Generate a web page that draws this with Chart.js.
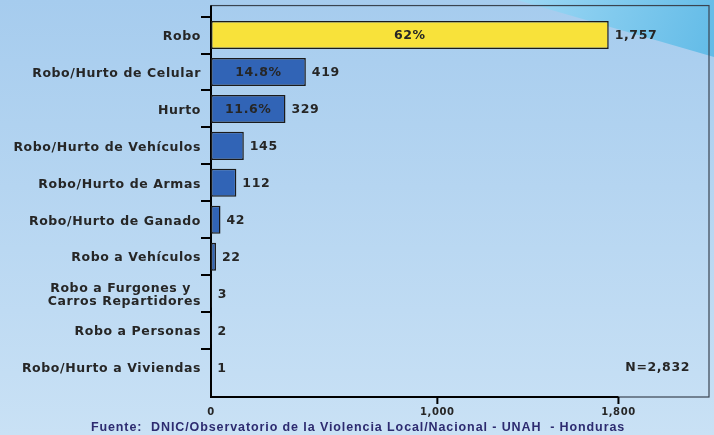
<!DOCTYPE html>
<html>
<head>
<meta charset="utf-8">
<script src="https://cdn.jsdelivr.net/npm/chart.js@4"></script>
<style>
  html, body { margin: 0; padding: 0; }
  body { width: 714px; height: 435px; overflow: hidden; }
  #wrap { position: relative; width: 714px; height: 435px; }
</style>
</head>
<body>
<div id="wrap"><canvas id="c" width="714" height="435"></canvas></div>
<script>
// data
var categories = [
  "Robo",
  "Robo/Hurto de Celular",
  "Hurto",
  "Robo/Hurto de Vehículos",
  "Robo/Hurto de Armas",
  "Robo/Hurto de Ganado",
  "Robo a Vehículos",
  ["Robo a Furgones y  ", "Carros Repartidores"],
  "Robo a Personas",
  "Robo/Hurto a Viviendas"
];
var counts = [1757, 419, 329, 145, 112, 42, 22, 3, 2, 1];
var percentLabels = ["62%", "14.8%", "11.6%", null, null, null, null, null, null, null];
var xTicks = [0, 1000, 1800];
var totalLabel = "N=2,832";
var sourceText = "Fuente:  DNIC/Observatorio de la Violencia Local/Nacional - UNAH  - Honduras";

var boldFont = "'DejaVu Sans', Verdana, sans-serif";

function fmt(n){ return n.toLocaleString('en-US'); }

function barFill(ctx){
  var chart = ctx.chart;
  var el = ctx.element;
  var c = chart.ctx;
  if(!el || el.y == null) return ctx.dataIndex === 0 ? '#f8e23a' : '#3164b6';
  var h = el.height || 28;
  var g = c.createLinearGradient(0, el.y - h/2, 0, el.y + h/2);
  if(ctx.dataIndex === 0){
    g.addColorStop(0, '#fdbd28');
    g.addColorStop(0.45, '#f6ee3c');
    g.addColorStop(0.55, '#f6ec3a');
    g.addColorStop(1, '#fdbf2a');
  } else {
    g.addColorStop(0, '#2f5fb0');
    g.addColorStop(0.5, '#3d71c4');
    g.addColorStop(1, '#2e5cad');
  }
  return g;
}

var backdrop = {
  id: 'backdrop',
  beforeDraw: function(chart){
    var c = chart.ctx, W = chart.width, H = chart.height;
    c.save();
    var g = c.createLinearGradient(0, 0, 0, H);
    g.addColorStop(0, '#a6ccee');
    g.addColorStop(1, '#c9e1f5');
    c.fillStyle = g;
    c.fillRect(0, 0, W, H);
    // lighter diagonal band top right
    var g2 = c.createLinearGradient(520, 0, W, 60);
    g2.addColorStop(0, '#9cd7f4');
    g2.addColorStop(1, '#62bbe7');
    c.fillStyle = g2;
    c.beginPath();
    c.moveTo(517, 0);
    c.lineTo(W, 0);
    c.lineTo(W, 57);
    c.closePath();
    c.fill();
    c.restore();
    // wider tracking, like the original Verdana text
    c.letterSpacing = '0.6px';
  },
  beforeDatasetsDraw: function(chart){
    var c = chart.ctx, a = chart.chartArea;
    var x = chart.scales.x, y = chart.scales.y;
    var top = a.top - 11, bottom = a.bottom + 11;
    c.save();
    // thin frame
    c.strokeStyle = '#3a4450';
    c.lineWidth = 1.2;
    c.strokeRect(a.left, top, a.right - a.left, bottom - top);
    // y axis
    c.strokeStyle = '#000';
    c.lineWidth = 2;
    c.beginPath();
    c.moveTo(a.left, top);
    c.lineTo(a.left, bottom);
    var half = (y.getPixelForValue(1) - y.getPixelForValue(0)) / 2;
    for(var i = 0; i < categories.length; i++){
      var py = Math.round(y.getPixelForValue(i) - half);
      c.moveTo(a.left - 10, py);
      c.lineTo(a.left, py);
    }
    // x axis
    var xEnd = x.getPixelForValue(xTicks[xTicks.length - 1]);
    c.moveTo(a.left - 1, bottom);
    c.lineTo(xEnd, bottom);
    xTicks.forEach(function(t){
      if(t === 0) return;
      var px = x.getPixelForValue(t);
      c.moveTo(px, bottom);
      c.lineTo(px, bottom + 7);
    });
    c.stroke();
    c.restore();
  },
  afterDatasetsDraw: function(chart){
    var c = chart.ctx, a = chart.chartArea;
    var meta = chart.getDatasetMeta(0);
    c.save();
    c.letterSpacing = '0.6px';
    c.fillStyle = '#262626';
    c.font = 'bold 12.5px ' + boldFont;
    c.textBaseline = 'middle';
    meta.data.forEach(function(bar, i){
      c.textAlign = 'left';
      c.fillText(fmt(counts[i]), bar.x + 6, bar.y + 1);
      if(percentLabels[i]){
        c.textAlign = 'center';
        c.fillText(percentLabels[i], (bar.base + bar.x) / 2, bar.y + 1);
      }
    });
    c.textAlign = 'right';
    c.fillText(totalLabel, a.right - 19, a.bottom - 18);
    // source line
    c.letterSpacing = '0.9px';
    c.font = 'bold 12.5px "Liberation Sans", Arial, sans-serif';
    c.fillStyle = '#2d2b70';
    c.textAlign = 'center';
    c.fillText(sourceText, 358, 428);
    c.restore();
  }
};

new Chart(document.getElementById('c'), {
  type: 'bar',
  data: {
    labels: categories,
    datasets: [{
      data: counts,
      backgroundColor: barFill,
      borderColor: '#1b1b1b',
      borderWidth: 1.5,
      borderSkipped: false,
      barPercentage: 0.76,
      categoryPercentage: 1.0
    }]
  },
  options: {
    indexAxis: 'y',
    responsive: false,
    animation: false,
    events: [],
    layout: { padding: { left: 0, right: 5, top: 15, bottom: 0 } },
    plugins: {
      legend: { display: false },
      tooltip: { enabled: false }
    },
    scales: {
      x: {
        min: 0,
        max: 2200,
        afterBuildTicks: function(scale){
          scale.ticks = xTicks.map(function(v){ return { value: v }; });
        },
        grid: { display: false, drawTicks: false },
        border: { display: false },
        ticks: {
          padding: 20,
          color: '#262626',
          font: { family: boldFont, size: 10, weight: 'bold' },
          callback: function(v){ return fmt(v); },
          maxRotation: 0
        },
        afterFit: function(scale){ scale.height = 49; }
      },
      y: {
        grid: { display: false, drawTicks: false },
        border: { display: false },
        ticks: {
          padding: 10,
          labelOffset: 1.5,
          color: '#262626',
          font: { family: boldFont, size: 12.5, weight: 'bold', lineHeight: 1.05 }
        },
        afterFit: function(scale){ scale.width = 211; }
      }
    }
  },
  plugins: [backdrop]
});
</script>
</body>
</html>
